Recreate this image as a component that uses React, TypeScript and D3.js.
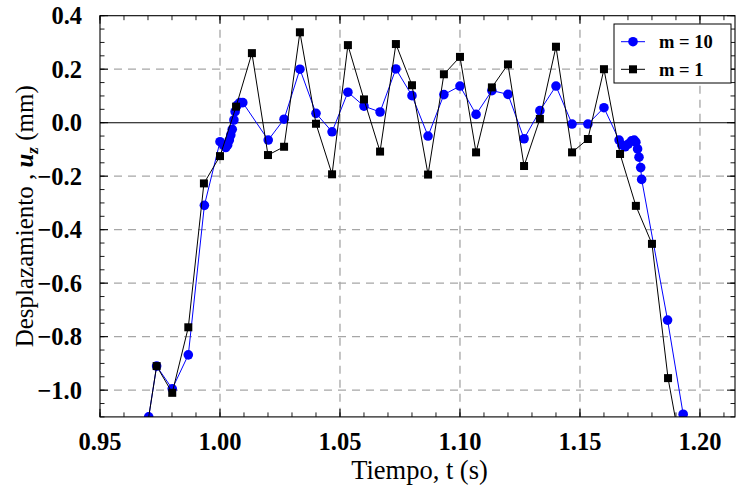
import React from "react";
import * as d3 from "d3";

// Series m = 1 (black squares)
const timeM1 = [0.967, 0.9736, 0.9801, 0.9868, 0.9933, 1.0, 1.0067, 1.0133, 1.02, 1.0267, 1.0333, 1.04, 1.0467, 1.0533, 1.06, 1.0667, 1.0733, 1.08, 1.0867, 1.0933, 1.1, 1.1067, 1.1133, 1.12, 1.1267, 1.1333, 1.14, 1.1467, 1.1533, 1.16, 1.1667, 1.1733, 1.18, 1.1867, 1.1933];
const dispM1 = [-1.29, -0.91, -1.01, -0.765, -0.227, -0.125, 0.06, 0.26, -0.121, -0.09, 0.338, -0.004, -0.193, 0.29, 0.087, -0.108, 0.294, 0.14, -0.194, 0.181, 0.246, -0.111, 0.132, 0.218, -0.162, 0.014, 0.284, -0.111, -0.061, 0.2, -0.117, -0.311, -0.453, -0.955, -1.28];

// Series m = 10 (blue circles)
const timeM10 = [0.9703, 0.9736, 0.9801, 0.9868, 0.9935, 1.0, 1.0014, 1.0024, 1.0032, 1.0039, 1.0045, 1.0051, 1.0058, 1.0063, 1.0072, 1.0083, 1.0095, 1.0201, 1.0267, 1.0333, 1.04, 1.0467, 1.0533, 1.06, 1.0667, 1.0733, 1.08, 1.0867, 1.0933, 1.1, 1.1067, 1.1133, 1.12, 1.1267, 1.1333, 1.14, 1.1467, 1.1533, 1.16, 1.1663, 1.1674, 1.1688, 1.1701, 1.1715, 1.1726, 1.1733, 1.174, 1.1746, 1.1753, 1.1757, 1.1865, 1.193];
const dispM10 = [-1.1, -0.91, -0.995, -0.868, -0.309, -0.071, -0.083, -0.093, -0.083, -0.065, -0.046, -0.025, 0.01, 0.041, 0.066, 0.075, 0.075, -0.065, 0.013, 0.2, 0.035, -0.034, 0.114, 0.062, 0.04, 0.201, 0.101, -0.05, 0.105, 0.137, 0.031, 0.12, 0.106, -0.06, 0.045, 0.137, -0.005, -0.005, 0.056, -0.065, -0.083, -0.09, -0.08, -0.068, -0.065, -0.073, -0.098, -0.129, -0.168, -0.212, -0.738, -1.09];

const xTickValues = [0.95, 1.0, 1.05, 1.1, 1.15, 1.2];
const yTickValues = [-1.0, -0.8, -0.6, -0.4, -0.2, 0.0, 0.2, 0.4];
const legendLabels = ["m = 10", "m = 1"];
const xLabel = "Tiempo, t (s)";

const W = 736;
const H = 488;
const L = 100;
const R = 735;
const T = 15.7;
const B = 416.9;
const FONT = "'Liberation Serif', 'Times New Roman', serif";

export default function App() {
  const x = d3.scaleLinear().domain([0.95, 1.2146]).range([L, R]);
  const y = d3.scaleLinear().domain([-1.1, 0.4]).range([B, T]);
  const xMinor = d3.range(0.95, 1.2146, 0.01);
  const yMinor = d3.range(-1.1, 0.401, 0.05);
  const fx = d3.format(".2f");
  const fy = d3.format(".1f");

  const m1 = timeM1.map((t, i) => [t, dispM1[i]] as [number, number]);
  const m10 = timeM10.map((t, i) => [t, dispM10[i]] as [number, number]);
  const line = d3.line<[number, number]>().x((d) => x(d[0])).y((d) => y(d[1]));

  const blue = "#0000ff";
  const sq = 8;

  return (
    <svg width={W} height={H} style={{ position: "absolute", left: 0, top: 0, background: "#fff" }}>
      <defs>
        <clipPath id="plotclip">
          <rect x={L} y={T} width={R - L} height={B - T} />
        </clipPath>
      </defs>
      <rect x={0} y={0} width={W} height={H} fill="#fff" />
      {/* grid */}
      {xTickValues.filter((v) => v > 0.951).map((v) => (
        <line key={"gx" + v} x1={x(v)} x2={x(v)} y1={T} y2={B} stroke="#a6a6a6" strokeWidth={1.3} strokeDasharray="8,6" />
      ))}
      {yTickValues.filter((v) => Math.abs(v) > 1e-6 && v < 0.39).map((v) => (
        <line key={"gy" + v} x1={L} x2={R} y1={y(v)} y2={y(v)} stroke="#a6a6a6" strokeWidth={1.3} strokeDasharray="8,6" />
      ))}
      <line x1={L} x2={R} y1={y(0)} y2={y(0)} stroke="#000" strokeWidth={1.1} />

      {/* ticks */}
      {xMinor.map((v, i) => (
        <g key={"xm" + i}>
          <line x1={x(v)} x2={x(v)} y1={B} y2={B - 4.5} stroke="#000" strokeWidth={0.9} />
          <line x1={x(v)} x2={x(v)} y1={T} y2={T + 4.5} stroke="#000" strokeWidth={0.9} />
        </g>
      ))}
      {xTickValues.map((v) => (
        <g key={"xM" + v}>
          <line x1={x(v)} x2={x(v)} y1={B} y2={B - 8} stroke="#000" strokeWidth={1} />
          <line x1={x(v)} x2={x(v)} y1={T} y2={T + 8} stroke="#000" strokeWidth={1} />
          <text x={x(v)} y={450} textAnchor="middle" fontFamily={FONT} fontWeight="bold" fontSize={24.5}>
            {fx(v)}
          </text>
        </g>
      ))}
      {yMinor.map((v, i) => (
        <g key={"ym" + i}>
          <line x1={L} x2={L + 4.5} y1={y(v)} y2={y(v)} stroke="#000" strokeWidth={0.9} />
          <line x1={R} x2={R - 4.5} y1={y(v)} y2={y(v)} stroke="#000" strokeWidth={0.9} />
        </g>
      ))}
      {yTickValues.map((v) => (
        <g key={"yM" + v}>
          <line x1={L} x2={L + 8} y1={y(v)} y2={y(v)} stroke="#000" strokeWidth={1} />
          <line x1={R} x2={R - 8} y1={y(v)} y2={y(v)} stroke="#000" strokeWidth={1} />
          <text x={82} y={y(v)} dy="0.35em" textAnchor="end" fontFamily={FONT} fontWeight="bold" fontSize={24.5}>
            {fy(v)}
          </text>
        </g>
      ))}

      {/* series */}
      <g clipPath="url(#plotclip)">
        <path d={line(m10) || ""} fill="none" stroke={blue} strokeWidth={1} />
        {m10.map((d, i) => (
          <circle key={"c" + i} cx={x(d[0])} cy={y(d[1])} r={4.8} fill={blue} />
        ))}
        <path d={line(m1) || ""} fill="none" stroke="#000" strokeWidth={1} />
        {m1.map((d, i) => (
          <rect key={"s" + i} x={x(d[0]) - sq / 2} y={y(d[1]) - sq / 2} width={sq} height={sq} fill="#000" />
        ))}
      </g>

      {/* frame */}
      <rect x={L} y={T} width={R - L} height={B - T} fill="none" stroke="#000" strokeWidth={1.1} />

      {/* axis labels */}
      <text x={(L + R) / 2 + 2} y={479} textAnchor="middle" fontFamily={FONT} fontSize={26.5}>
        {xLabel}
      </text>
      <text transform={`translate(33, ${(T + B) / 2}) rotate(-90)`} textAnchor="middle" fontFamily={FONT} fontSize={25}>
        Desplazamiento ,{" "}
        <tspan fontWeight="bold" fontStyle="italic">u</tspan>
        <tspan fontWeight="bold" fontStyle="italic" fontSize={17} dy={5}>z</tspan>
        <tspan dy={-5}> (mm)</tspan>
      </text>

      {/* legend */}
      <g>
        <rect x={614} y={24} width={117} height={59} fill="#fff" stroke="#000" strokeWidth={1} />
        <line x1={621} x2={645} y1={41.7} y2={41.7} stroke={blue} strokeWidth={1} />
        <circle cx={633} cy={41.7} r={4.8} fill={blue} />
        <text x={659} y={41.7} dy="0.35em" fontFamily={FONT} fontWeight="bold" fontSize={18.5}>{legendLabels[0]}</text>
        <line x1={621} x2={645} y1={69.3} y2={69.3} stroke="#000" strokeWidth={1} />
        <rect x={633 - sq / 2} y={69.3 - sq / 2} width={sq} height={sq} fill="#000" />
        <text x={659} y={69.3} dy="0.35em" fontFamily={FONT} fontWeight="bold" fontSize={18.5}>{legendLabels[1]}</text>
      </g>
    </svg>
  );
}
